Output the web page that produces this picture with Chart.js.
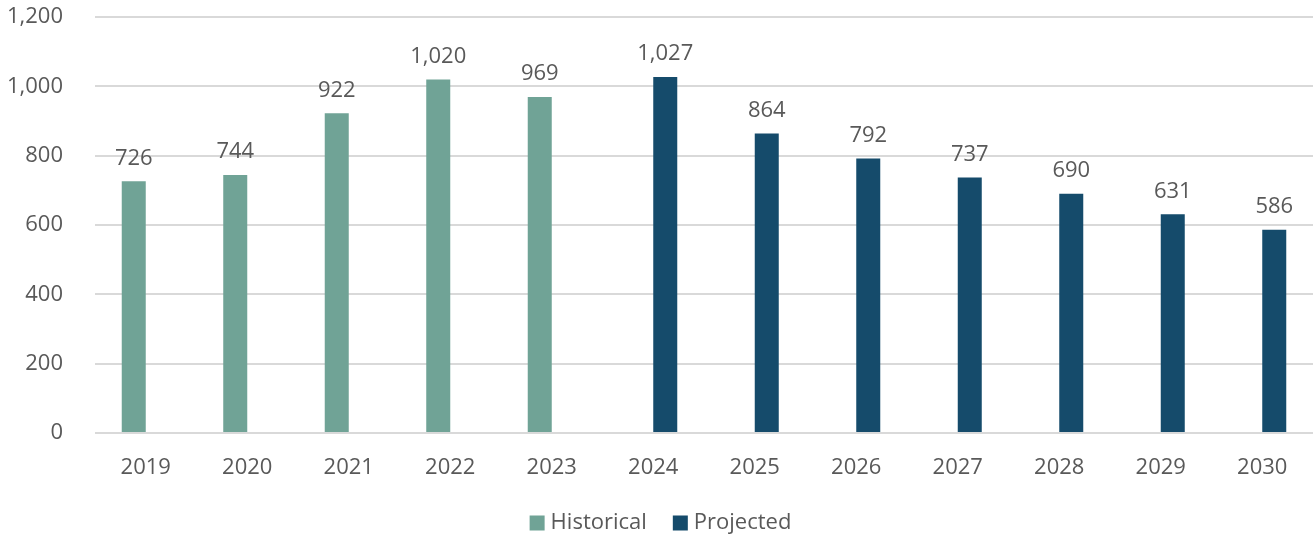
<!DOCTYPE html>
<html>
<head>
<meta charset="utf-8">
<script src="https://cdn.jsdelivr.net/npm/chart.js@4/dist/chart.umd.min.js"></script>
<style>
html,body{margin:0;padding:0;background:#fff;}
#wrap{width:1315px;height:541px;}
</style>
</head>
<body>
<div id="wrap"><canvas id="c" width="1315" height="541"></canvas></div>
<script>
const categories = ['2019','2020','2021','2022','2023','2024','2025','2026','2027','2028','2029','2030'];
const historical = [726, 744, 922, 1020, 969, null, null, null, null, null, null, null];
const projected = [null, null, null, null, null, 1027, 864, 792, 737, 690, 631, 586];
const yTicks = [0, 200, 400, 600, 800, 1000, 1200];

const FONT = "'Open Sans', 'Noto Sans', sans-serif";
const TEXT = '#595959';
const FS = 22;

const labelPlugin = {
  id: 'barLabels',
  afterDatasetsDraw(chart) {
    const ctx = chart.ctx;
    ctx.save();
    ctx.font = FS + 'px ' + FONT;
    ctx.fillStyle = TEXT;
    ctx.textAlign = 'center';
    ctx.textBaseline = 'bottom';
    chart.data.datasets.forEach((ds, i) => {
      const meta = chart.getDatasetMeta(i);
      meta.data.forEach((bar, j) => {
        const v = ds.data[j];
        if (v === null || v === undefined) return;
        ctx.fillText(v.toLocaleString('en-US'), bar.x, bar.y - 12);
      });
    });
    ctx.restore();
  }
};

// legend drawn below the x axis, centred on the canvas
const legendPlugin = {
  id: 'bottomLegend',
  afterDraw(chart) {
    const ctx = chart.ctx;
    ctx.save();
    ctx.font = FS + 'px ' + FONT;
    ctx.textBaseline = 'middle';
    ctx.textAlign = 'left';
    const box = 15, gap = 6, itemGap = 26;
    const items = chart.data.datasets.map(ds => ({ text: ds.label, color: ds.backgroundColor, w: ctx.measureText(ds.label).width }));
    const total = items.reduce((s, it) => s + box + gap + it.w, 0) + itemGap * (items.length - 1);
    let x = chart.width / 2 - total / 2 + 3;
    const cy = 523;
    items.forEach(it => {
      ctx.fillStyle = it.color;
      ctx.fillRect(x, cy - box / 2, box, box);
      x += box + gap;
      ctx.fillStyle = TEXT;
      ctx.fillText(it.text, x, cy);
      x += it.w + itemGap;
    });
    ctx.restore();
  }
};

new Chart(document.getElementById('c'), {
  type: 'bar',
  data: {
    labels: categories,
    datasets: [
      { label: 'Historical', data: historical, backgroundColor: '#70A396', barPercentage: 1, categoryPercentage: 0.473 },
      { label: 'Projected', data: projected, backgroundColor: '#154B6B', barPercentage: 1, categoryPercentage: 0.473 }
    ]
  },
  options: {
    responsive: false,
    animation: false,
    layout: { padding: { top: 17, right: 2, left: 0, bottom: 48 } },
    plugins: {
      legend: { display: false },
      tooltip: { enabled: false }
    },
    scales: {
      x: {
        afterFit(axis) { axis.height = 60; axis.paddingLeft = 0; axis.paddingRight = 0; },
        grid: { display: false },
        border: { display: false },
        ticks: { font: { family: FONT, size: FS }, color: TEXT, padding: 14, maxRotation: 0 }
      },
      y: {
        min: 0, max: 1200,
        afterBuildTicks(axis) { axis.ticks = yTicks.map(v => ({ value: v })); },
        afterFit(axis) { axis.width = 95; axis.paddingTop = 0; axis.paddingBottom = 0; },
        grid: { color: '#d9d9d9', lineWidth: 2, drawTicks: false },
        border: { display: false },
        ticks: {
          font: { family: FONT, size: FS }, color: TEXT, padding: 32,
          callback: v => v.toLocaleString('en-US')
        }
      }
    }
  },
  plugins: [labelPlugin, legendPlugin]
});
</script>
</body>
</html>
